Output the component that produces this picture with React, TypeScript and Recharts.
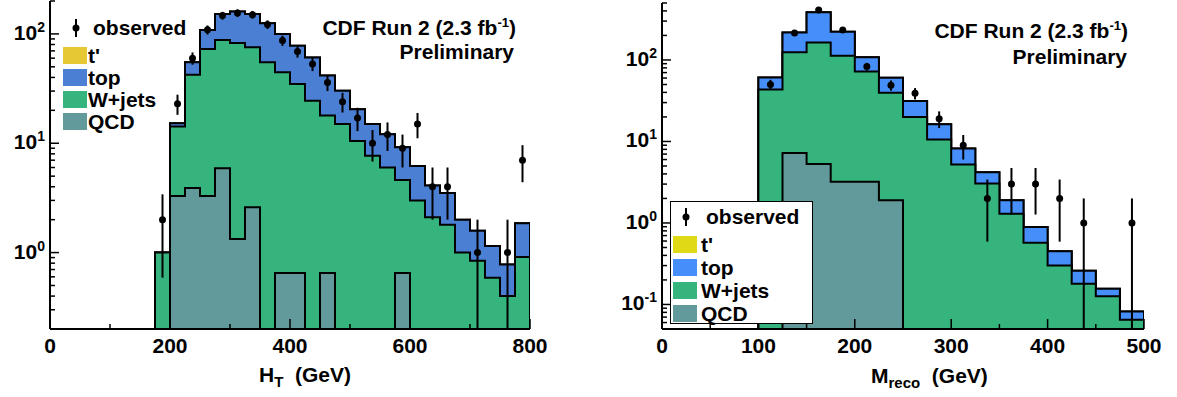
import { Area, ComposedChart, ErrorBar, Scatter, XAxis, YAxis } from 'recharts'

const font = '"Liberation Sans", Arial, Helvetica, sans-serif'
const FLOOR = 1e-3 // empty bins drop below the frame

// ---- left: H_T, 25 GeV bins (low edges) ----
const htEdges = [175, 200, 225, 250, 275, 300, 325, 350, 375, 400, 425, 450, 475, 500, 525, 550, 575, 600, 625, 650, 675, 700, 725, 750, 775]
const htQcd = [0, 3.3, 3.9, 3.3, 5.9, 1.33, 2.6, 0, 0.65, 0.65, 0, 0.65, 0, 0, 0, 0, 0.65, 0, 0, 0, 0, 0, 0, 0, 0]
const htWjets = [1.0, 10.9, 38.5, 69.5, 82, 81.3, 72.8, 55, 43.9, 34.2, 24.5, 17.3, 15.0, 10.5, 7.7, 6.0, 3.95, 3.0, 2.1, 1.8, 1.0, 0.84, 0.59, 0.4, 0.91]
const htTop = [0, 1.0, 12.6, 36, 64, 78, 77, 70, 55.5, 43, 36.5, 23.6, 15.2, 10, 7.3, 6.1, 4.6, 3.2, 2.0, 1.7, 1.0, 0.74, 0.56, 0.38, 0.94]
const htTprime = [0, 0, 0, 0, 0, 0, 0, 0, 0, 0, 0, 0, 0, 0, 0, 0, 0, 0, 0, 0, 0, 0, 0, 0, 0]
const htObserved = [2, 23, 60, 109, 147, 155, 150, 122, 87, 69, 53, 36, 24, 17, 10, 12, 9, 15, 4, 4, null, 1, null, 1, 7]
const htErrLo = [1.41, 4.8, 7.7, 10.4, 12.1, 12.4, 12.2, 11.0, 9.3, 8.3, 7.3, 6.0, 4.9, 4.1, 3.2, 3.5, 3.0, 3.9, 2.0, 2.0, 0, 0.8, 0, 0.8, 2.6]
const htErrHi = [1.41, 4.8, 7.7, 10.4, 12.1, 12.4, 12.2, 11.0, 9.3, 8.3, 7.3, 6.0, 4.9, 4.1, 3.2, 3.5, 3.0, 3.9, 2.0, 2.0, 0, 1.0, 0, 1.0, 2.6]

// ---- right: M_reco, 25 GeV bins ----
const mEdges = [100, 125, 150, 175, 200, 225, 250, 275, 300, 325, 350, 375, 400, 425, 450, 475]
const mQcd = [0, 7.2, 5.3, 3.2, 3.2, 1.9, 0, 0, 0, 0, 0, 0, 0, 0, 0, 0]
const mWjets = [43.5, 116.8, 158.7, 109.8, 68.8, 37.7, 20, 10.6, 5.2, 3.05, 1.3, 0.57, 0.3, 0.18, 0.126, 0.065]
const mTop = [17.5, 94, 220, 109, 36, 21, 11.3, 5.7, 3.0, 1.15, 0.6, 0.32, 0.15, 0.08, 0.03, 0.017]
const mTprime = [0, 0, 0, 0, 0, 0, 0, 0, 0, 0, 0, 0, 0, 0, 0, 0]
const mObserved = [50, 214, 410, 233, 83, 49, 39, 19, 9, 2, 3, 3, 2, 1, null, 1]
const mErrLo = [7.1, 14.6, 20.2, 15.3, 9.1, 7.0, 6.2, 4.4, 3.0, 1.41, 1.73, 1.73, 1.41, 0.95, 0, 0.95]
const mErrHi = [7.1, 14.6, 20.2, 15.3, 9.1, 7.0, 6.2, 4.4, 3.0, 1.41, 1.73, 1.73, 1.41, 1.0, 0, 1.0]

const htXTicks = [0, 100, 200, 300, 400, 500, 600, 700, 800]
const htXMajor = [0, 200, 400, 600, 800]
const htYTicks = [0.2, 0.3, 0.4, 0.5, 0.6, 0.7, 0.8, 0.9, 1, 2, 3, 4, 5, 6, 7, 8, 9, 10, 20, 30, 40, 50, 60, 70, 80, 90, 100, 200]
const mXTicks = [0, 50, 100, 150, 200, 250, 300, 350, 400, 450, 500]
const mXMajor = [0, 100, 200, 300, 400, 500]
const mYTicks = [0.05, 0.06, 0.07, 0.08, 0.09, 0.1, 0.2, 0.3, 0.4, 0.5, 0.6, 0.7, 0.8, 0.9, 1, 2, 3, 4, 5, 6, 7, 8, 9, 10, 20, 30, 40, 50, 60, 70, 80, 90, 100, 200, 300, 400, 500]

const BIN = 25

function histRows(edges: number[], qcd: number[], wjets: number[], top: number[], tprime: number[]) {
  const rows: any[] = [{ x: 0, q: FLOOR, w: FLOOR, t: FLOOR, tp: FLOOR }]
  edges.forEach((e, i) => {
    const q = qcd[i]
    const w = q + wjets[i]
    const t = w + top[i]
    const tp = t + tprime[i]
    rows.push({ x: e, q: q || FLOOR, w: w || FLOOR, t: t || FLOOR, tp: tp || FLOOR })
  })
  rows.push({ x: edges[edges.length - 1] + BIN, q: FLOOR, w: FLOOR, t: FLOOR, tp: FLOOR })
  return rows
}

function obsRows(edges: number[], obs: (number | null)[], lo: number[], hi: number[]) {
  return obs
    .map((v, i) => (v == null ? null : { x: edges[i] + BIN / 2, y: v, err: [lo[i], hi[i]] }))
    .filter(Boolean)
}

const isPow10 = (v: number) => Math.abs(Math.log10(v) - Math.round(Math.log10(v))) < 1e-9

const bottomTick = (major: number[]) => (p: any) => {
  const v = p.payload.value
  const big = major.includes(v)
  return (
    <g>
      <line x1={p.x} x2={p.x} y1={p.y} y2={p.y - (big ? 10 : 5)} stroke="#000" strokeWidth={1.5} />
      {big && (
        <text x={p.x} y={p.y + 24} textAnchor="middle" fontSize={21} fontWeight="bold" fontFamily={font} fill="#000">
          {v}
        </text>
      )}
    </g>
  )
}

const topTick = (major: number[]) => (p: any) => {
  const big = major.includes(p.payload.value)
  return <line x1={p.x} x2={p.x} y1={p.y} y2={p.y + (big ? 10 : 5)} stroke="#000" strokeWidth={1.5} />
}

const leftTick = (p: any) => {
  const v = p.payload.value
  const big = isPow10(v)
  return (
    <g>
      <line x1={p.x} x2={p.x + (big ? 9 : 5)} y1={p.y} y2={p.y} stroke="#000" strokeWidth={1.5} />
      {big && (
        <text x={p.x - 5} y={p.y} textAnchor="end" fontSize={21} fontWeight="bold" fontFamily={font} fill="#000">
          <tspan dy={6}>10</tspan>
          <tspan dy={-8} fontSize={14}>{Math.round(Math.log10(v))}</tspan>
        </text>
      )}
    </g>
  )
}

const rightTick = (p: any) => {
  const big = isPow10(p.payload.value)
  return <line x1={p.x} x2={p.x - (big ? 9 : 5)} y1={p.y} y2={p.y} stroke="#000" strokeWidth={1.5} />
}

function Dot(p: any) {
  return <circle cx={p.cx} cy={p.cy} r={3.5} fill="#000" />
}

function Panel(props: any) {
  const { left, width, margin, yWidth, xHeight, rows, points, xDomain, xTicks, xMajor, yDomain, yTicks, colors } = props
  const axisLine = { stroke: '#000', strokeWidth: 2 }
  return (
    <div style={{ position: 'absolute', left, top: 0 }}>
      <ComposedChart width={width} height={397} data={rows} margin={margin}>
        <XAxis xAxisId="b" dataKey="x" type="number" domain={xDomain} ticks={xTicks} interval={0} allowDataOverflow
          tickSize={0} tickMargin={0} tickLine={false} axisLine={axisLine} tick={bottomTick(xMajor)} height={xHeight} />
        <XAxis xAxisId="t" orientation="top" type="number" domain={xDomain} ticks={xTicks} interval={0}
          tickSize={0} tickMargin={0} tickLine={false} axisLine={axisLine} tick={topTick(xMajor)} height={0} />
        <YAxis yAxisId="l" type="number" scale="log" domain={yDomain} ticks={yTicks} interval={0} allowDataOverflow
          tickSize={0} tickMargin={0} tickLine={false} axisLine={axisLine} tick={leftTick} width={yWidth} />
        <YAxis yAxisId="r" orientation="right" type="number" scale="log" domain={yDomain} ticks={yTicks} interval={0} allowDataOverflow
          tickSize={0} tickMargin={0} tickLine={false} axisLine={axisLine} tick={rightTick} width={0} />
        <Area xAxisId="b" yAxisId="l" dataKey="tp" type="stepAfter" fill={colors.tprime} fillOpacity={1} stroke="#000" strokeWidth={2} isAnimationActive={false} />
        <Area xAxisId="b" yAxisId="l" dataKey="t" type="stepAfter" fill={colors.top} fillOpacity={1} stroke="#000" strokeWidth={2} isAnimationActive={false} />
        <Area xAxisId="b" yAxisId="l" dataKey="w" type="stepAfter" fill={colors.wjets} fillOpacity={1} stroke="#000" strokeWidth={2} isAnimationActive={false} />
        <Area xAxisId="b" yAxisId="l" dataKey="q" type="stepAfter" fill={colors.qcd} fillOpacity={1} stroke="#000" strokeWidth={2} isAnimationActive={false} />
        <Scatter xAxisId="b" yAxisId="l" data={points} dataKey="y" shape={Dot} isAnimationActive={false}>
          <ErrorBar dataKey="err" direction="y" width={0} stroke="#000" strokeWidth={2} />
        </Scatter>
      </ComposedChart>
    </div>
  )
}

const txt: any = { position: 'absolute', fontFamily: font, fontWeight: 'bold', fontSize: 21, lineHeight: '21px', whiteSpace: 'nowrap', color: '#000' }

function ObsMark() {
  return (
    <svg width={12} height={20} style={{ display: 'block' }}>
      <line x1={6} x2={6} y1={1} y2={19} stroke="#000" strokeWidth={2} />
      <circle cx={6} cy={10} r={3.5} fill="#000" />
    </svg>
  )
}

function Legend({ x, y, colors, gap, textX }: any) {
  const entries = [
    { label: "t'", color: colors.tprime },
    { label: 'top', color: colors.top },
    { label: 'W+jets', color: colors.wjets },
    { label: 'QCD', color: colors.qcd },
  ]
  return (
    <>
      <div style={{ ...txt, left: x + 7, top: y - 10, display: 'flex', alignItems: 'center', height: 20 }}>
        <ObsMark />
      </div>
      <div style={{ ...txt, left: textX + 5, top: y - 11 }}>observed</div>
      {entries.map((e, i) => (
        <div key={e.label} style={{ ...txt, left: x, top: y + 27 + i * gap - 11, display: 'flex', alignItems: 'center', height: 22 }}>
          <span style={{ display: 'inline-block', width: 24, height: 17, background: e.color, marginRight: textX - x - 24 }} />
          <span>{e.label}</span>
        </div>
      ))}
    </>
  )
}

const leftColors = { tprime: '#e6c834', top: '#4b7fd4', wjets: '#35b47e', qcd: '#62999a' }
const rightColors = { tprime: '#e0da16', top: '#468ffa', wjets: '#35b47e', qcd: '#62999a' }

export default function App() {
  const htRows = histRows(htEdges, htQcd, htWjets, htTop, htTprime)
  const htPts = obsRows(htEdges, htObserved, htErrLo, htErrHi)
  const mRows = histRows(mEdges, mQcd, mWjets, mTop, mTprime)
  const mPts = obsRows(mEdges, mObserved, mErrLo, mErrHi)

  return (
    <div style={{ position: 'absolute', left: 0, top: 0, width: 1177, height: 397, background: '#fff', overflow: 'hidden' }}>
      <Panel left={0} width={570} margin={{ top: 1, right: 40, left: 0, bottom: 0 }} yWidth={50} xHeight={68}
        rows={htRows} points={htPts} xDomain={[0, 800]} xTicks={htXTicks} xMajor={htXMajor}
        yDomain={[0.2, 200]} yTicks={htYTicks} colors={leftColors} />
      <Panel left={600} width={577} margin={{ top: 3, right: 33, left: 0, bottom: 0 }} yWidth={62} xHeight={68}
        rows={mRows} points={mPts} xDomain={[0, 500]} xTicks={mXTicks} xMajor={mXMajor}
        yDomain={[0.05, 500]} yTicks={mYTicks} colors={rightColors} />

      <div style={{ ...txt, right: 1177 - 516, top: 17 }}>CDF Run 2 (2.3 fb<sup style={{ fontSize: 13, lineHeight: 0 }}>-1</sup>)</div>
      <div style={{ ...txt, right: 1177 - 514, top: 41 }}>Preliminary</div>
      <div style={{ ...txt, right: 1177 - 1128, top: 20 }}>CDF Run 2 (2.3 fb<sup style={{ fontSize: 13, lineHeight: 0 }}>-1</sup>)</div>
      <div style={{ ...txt, right: 1177 - 1127, top: 46 }}>Preliminary</div>

      <Legend x={63} y={28} colors={leftColors} gap={22.3} textX={88} />

      <div style={{ position: 'absolute', left: 670, top: 201, width: 141, height: 121, background: '#fff', border: '1.5px solid #000' }} />
      <Legend x={673} y={217} colors={rightColors} gap={23} textX={701} />

      <div style={{ ...txt, left: 259, top: 364 }}>H<sub style={{ fontSize: 15, lineHeight: 0 }}>T</sub>&nbsp; (GeV)</div>
      <div style={{ ...txt, left: 871, top: 365 }}>M<sub style={{ fontSize: 15, lineHeight: 0 }}>reco</sub>&nbsp; (GeV)</div>
    </div>
  )
}
